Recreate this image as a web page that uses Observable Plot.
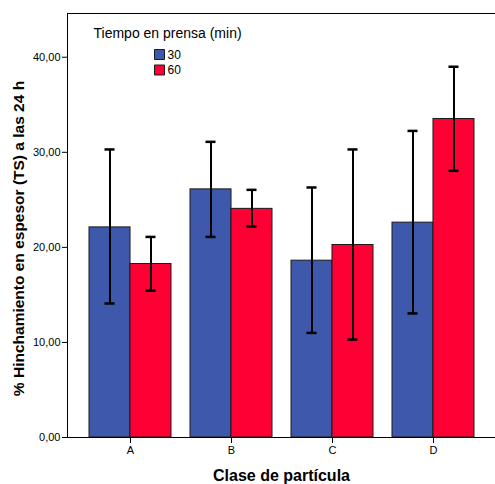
<!DOCTYPE html>
<html>
<head>
<meta charset="utf-8">
<script src="https://cdn.jsdelivr.net/npm/d3@7"></script>
<script src="https://cdn.jsdelivr.net/npm/@observablehq/plot@0.6"></script>
<style>
  body { margin: 0; background: #fff; }
  #chart svg { display: block; }
</style>
</head>
<body>
<div id="chart"></div>
<script>
// Particle classes and pressing times
const categories = ["A", "B", "C", "D"];
const times = ["30", "60"];

// Mean thickness swelling (%) with error-bar limits, 30 min pressing
const mean30 = [22.1, 26.1, 18.6, 22.6];
const low30 = [14.1, 21.1, 11.0, 13.05];
const high30 = [30.3, 31.1, 26.3, 32.25];

// Mean thickness swelling (%) with error-bar limits, 60 min pressing
const mean60 = [18.25, 24.05, 20.25, 33.5];
const low60 = [15.45, 22.2, 10.3, 28.05];
const high60 = [21.1, 26.05, 30.3, 39.0];

const yTicks = [0, 10, 20, 30, 40];
const seriesColors = ["#3E58AC", "#FF0035"];

const rows30 = categories.map((c, i) => ({clase: c, time: "30", mean: mean30[i], low: low30[i], high: high30[i]}));
const rows60 = categories.map((c, i) => ({clase: c, time: "60", mean: mean60[i], low: low60[i], high: high60[i]}));

// Layout
const width = 495, height = 484;
const marginLeft = 67, marginRight = 0, marginTop = 13, marginBottom = 47;
const padIn = 0.19, padOut = 0.21;
const step = (width - marginLeft - marginRight) / (categories.length - padIn + 2 * padOut);
const bw = step * (1 - padIn);
const half = bw / 2;
const shift = half / 2;
const capInset = half - 5;

const fmt = d => d.toFixed(2).replace(".", ",");

const plot = Plot.plot({
  width, height, marginLeft, marginRight, marginTop, marginBottom,
  style: {fontFamily: "'Liberation Sans', Arial, sans-serif", fontSize: "11px", color: "#000", background: "#fff"},
  x: {domain: categories, paddingInner: padIn, paddingOuter: padOut, label: null},
  y: {domain: [0, 44.6], label: null},
  color: {domain: times, range: seriesColors},
  marks: [
    Plot.barY(rows30, {x: "clase", y: "mean", fill: "time", stroke: "#1a1a1a", strokeWidth: 1, insetRight: half}),
    Plot.barY(rows60, {x: "clase", y: "mean", fill: "time", stroke: "#1a1a1a", strokeWidth: 1, insetLeft: half}),
    Plot.ruleX(rows30, {x: "clase", y1: "low", y2: "high", dx: -shift, stroke: "#000", strokeWidth: 2}),
    Plot.ruleX(rows60, {x: "clase", y1: "low", y2: "high", dx: shift, stroke: "#000", strokeWidth: 2}),
    Plot.tickY(rows30, {x: "clase", y: "high", dx: -shift, insetLeft: capInset, insetRight: capInset, stroke: "#000", strokeWidth: 2.5}),
    Plot.tickY(rows30, {x: "clase", y: "low", dx: -shift, insetLeft: capInset, insetRight: capInset, stroke: "#000", strokeWidth: 2.5}),
    Plot.tickY(rows60, {x: "clase", y: "high", dx: shift, insetLeft: capInset, insetRight: capInset, stroke: "#000", strokeWidth: 2.5}),
    Plot.tickY(rows60, {x: "clase", y: "low", dx: shift, insetLeft: capInset, insetRight: capInset, stroke: "#000", strokeWidth: 2.5}),
    Plot.frame({stroke: "#000"}),
    Plot.axisY({ticks: yTicks, tickFormat: fmt, tickSize: 5, tickPadding: 2, label: null, fontSize: 11}),
    Plot.axisX({tickSize: 6, tickPadding: 3, label: null, fontSize: 11}),
    // Axis titles
    Plot.text(["% Hinchamiento en espesor (TS) a las 24 h"], {text: d => d, frameAnchor: "left", dx: -48, dy: 13, rotate: -90, textAnchor: "middle", lineAnchor: "middle", fontSize: 15.5, fontWeight: "bold"}),
    Plot.text(["Clase de partícula"], {text: d => d, frameAnchor: "bottom", dy: 38, lineAnchor: "middle", fontSize: 16, fontWeight: "bold"}),
    // Legend
    Plot.text(["Tiempo en prensa (min)"], {text: d => d, frameAnchor: "top-left", dx: 26, dy: 20, textAnchor: "start", lineAnchor: "middle", fontSize: 14}),
    ...times.map((t, i) => Plot.dot([t], {frameAnchor: "top-left", dx: 92, dy: 41 + i * 15.5, symbol: "square", r: 5.64, fill: d => d, stroke: "#1a1a1a", strokeWidth: 1})),
    ...times.map((t, i) => Plot.text([t], {text: d => d, frameAnchor: "top-left", dx: 100, dy: 41.5 + i * 15.5, textAnchor: "start", lineAnchor: "middle", fontSize: 12}))
  ]
});

document.getElementById("chart").append(plot);
</script>
</body>
</html>
